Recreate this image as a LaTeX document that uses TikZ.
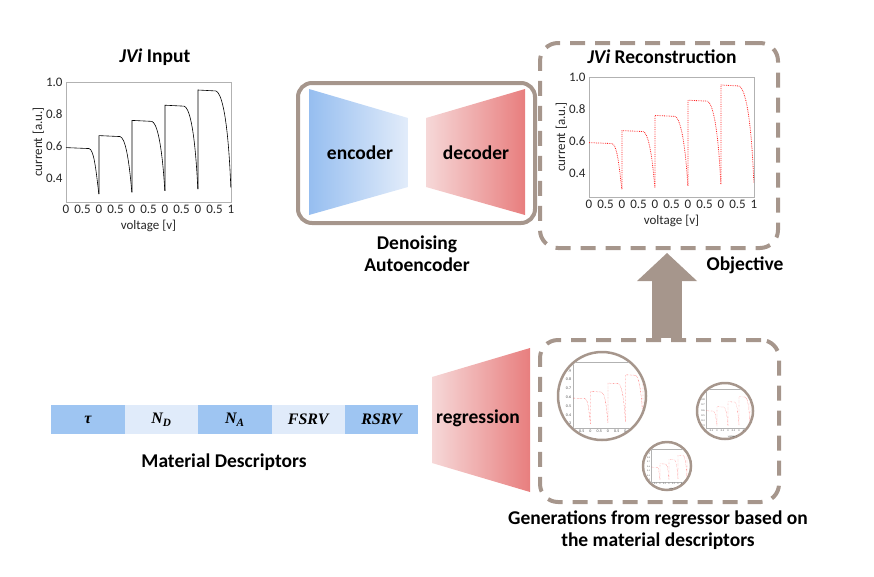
\documentclass[tikz,border=0pt]{standalone}
\usepackage{fontspec}
\setmainfont{Carlito}
\newfontfamily\descfont{Liberation Serif}
\usetikzlibrary{arrows.meta}

\definecolor{taupe}{RGB}{166,150,140}
\definecolor{encblue}{RGB}{150,190,240}
\definecolor{enclight}{RGB}{226,236,250}
\definecolor{decpink}{RGB}{246,216,216}
\definecolor{decred}{RGB}{232,126,126}
\definecolor{cellblue}{RGB}{158,197,242}
\definecolor{celllight}{RGB}{224,235,250}

\tikzset{
  bigtext/.style={font=\fontsize{19.5}{22}\selectfont\bfseries, align=center},
  plotfont/.style={font=\fontsize{13}{15}\selectfont, text=black!85},
  frameline/.style={draw=black!30, line width=0.6pt},
  jvline/.style={black, line width=0.6pt},
  recline/.style={red!85, densely dotted, line width=0.8pt},
  solidbox/.style={draw=taupe, line width=4pt, rounded corners=14pt},
  dashbox/.style={draw=taupe, line width=4pt, rounded corners=18pt, dash pattern=on 15pt off 10pt},
  genring/.style={circle, draw=taupe, line width=2.5pt}
}

% frame, ticks and labels of a JVi plot, in (segment, current) units
\newcommand{\jvaxes}[1]{%
  \draw[frameline] (0,0.25) rectangle (5,1);
  \foreach \v [count=\n] in {#1}
    \node[plotfont, anchor=east, inner sep=0pt] (yt\n) at (-0.1,\v) {\v};
  \foreach \i in {0,...,4} {
    \node[plotfont, anchor=north, inner sep=0pt] (xa\i) at (\i,0.23) {0};
    \node[plotfont, anchor=north, inner sep=0pt] (xb\i) at (\i+0.5,0.23) {0.5};
  }
  \node[plotfont, anchor=north, inner sep=0pt] (xend) at (5,0.23) {1};
  \node[plotfont, inner sep=0pt] (xlab) at (2.5,0.1) {voltage [v]};
  \node[plotfont, rotate=90] (ylab) at (-0.84,0.625) {current [a.u.]};
}

% the five JV sweeps
\newcommand{\jvcurves}[1]{%
  \foreach \i/\a/\b/\p/\k in {0/0.59/0.30/0.59/0.70, 1/0.665/0.31/0.30/0.64,
      2/0.76/0.32/0.31/0.60, 3/0.855/0.33/0.32/0.58, 4/0.95/0.34/0.33/0.54}
    \draw[#1] (\i,\p) -- (\i,\a) -- (\i+\k,\a-0.006)
      .. controls (\i+\k+0.14,\a-0.014) and (\i+0.9,\a-0.12) .. (\i+0.995,\b);
}

\begin{document}
\begin{tikzpicture}[x=1pt,y=-1pt]
\useasboundingbox (0,0) rectangle (874,576);

% input curve
\node[bigtext] (intitle) at (155,57) {\textit{JVi} Input};
\begin{scope}[shift={(66pt,-242pt)}, x=33pt, y=160pt]
    \jvaxes{0.4,0.6,0.8,1.0}
    \jvcurves{jvline}
\end{scope}

% denoising autoencoder
\node[solidbox, minimum width=237pt, minimum height=140pt] (dae) at (416.5,153) {};
\shade[left color=encblue, right color=enclight] (309,89) -- (408,118) -- (408,187) -- (309,215) -- cycle;
\shade[left color=decpink, right color=decred] (426,118) -- (525,89) -- (525,215) -- (426,187) -- cycle;
\node[bigtext] (enc) at (360,153) {encoder};
\node[bigtext] (dec) at (476,153) {decoder};
\node[bigtext] (daelabel) at (417,254) {Denoising\\Autoencoder};

% reconstruction
\node[dashbox, minimum width=238pt, minimum height=205pt] (recbox) at (659,145.5) {};
\node[bigtext] (rectitle) at (662,57) {\textit{JVi} Reconstruction};
\begin{scope}[shift={(589pt,-237pt)}, x=33pt, y=160pt]
    \jvaxes{0.4,0.6,0.8,1.0}
    \jvcurves{recline}
\end{scope}
\node[bigtext] (objective) at (745,265) {Objective};

% material descriptors
\begin{scope}[every node/.style={minimum width=73.4pt, minimum height=29pt, inner sep=0pt, outer sep=0pt,
                                 font=\descfont\fontsize{16}{18}\selectfont\bfseries\itshape}]
    \node[fill=cellblue] (tau) at (88,419.5) {τ};
    \node[fill=celllight] (nd) at (161.4,419.5) {N\textsubscript{D}};
    \node[fill=cellblue] (na) at (234.8,419.5) {N\textsubscript{A}};
    \node[fill=celllight] (fsrv) at (308.2,419.5) {FSRV};
    \node[fill=cellblue] (rsrv) at (381.6,419.5) {RSRV};
\end{scope}
\node[bigtext] (matlabel) at (224,462) {Material Descriptors};

% regression
\shade[left color=decpink, right color=decred] (432,377) -- (530,348) -- (530,492) -- (432,463) -- cycle;
\node[bigtext] (reg) at (478,418) {regression};

% generations
\node[dashbox, minimum width=239pt, minimum height=162pt] (genbox) at (659.5,421) {};
\node[bigtext] (genlabel) at (658,530) {Generations from regressor based on\\the material descriptors};

\node[genring, minimum size=88pt] (gen1) at (602,396) {};
\begin{scope}
    \clip (gen1.center) circle (42.7pt);
    \begin{scope}[shift={(573pt,-450pt)}, x=17.5pt, y=88pt,
                  plotfont/.style={font=\fontsize{4}{5}\selectfont, text=black!70}]
        \jvaxes{0.3,0.4,0.5,0.6,0.7,0.8,0.9}
        \jvcurves{recline, line width=0.4pt}
    \end{scope}
\end{scope}

\node[genring, minimum size=56pt] (gen2) at (725,411) {};
\begin{scope}
    \clip (gen2.center) circle (26.7pt);
    \begin{scope}[shift={(706pt,-442pt)}, x=11pt, y=53pt,
                  plotfont/.style={font=\fontsize{2.6}{3}\selectfont, text=black!70}]
        \jvaxes{0.3,0.4,0.5,0.6,0.7,0.8,0.9}
        \jvcurves{recline, line width=0.3pt}
    \end{scope}
\end{scope}

\node[genring, minimum size=48pt] (gen3) at (667,466) {};
\begin{scope}
    \clip (gen3.center) circle (22.7pt);
    \begin{scope}[shift={(651pt,-493pt)}, x=9pt, y=44pt,
                  plotfont/.style={font=\fontsize{2.2}{3}\selectfont, text=black!70}]
        \jvaxes{0.3,0.4,0.5,0.6,0.7,0.8,0.9}
        \jvcurves{recline, line width=0.3pt}
    \end{scope}
\end{scope}

% objective arrow
\coordinate (arrbot) at (667,338);
\coordinate (arrtop) at (667,253);
\draw[taupe, line width=30pt, -{Triangle[width=60pt, length=28pt, line width=0pt]}] (arrbot) -- (arrtop);
\end{tikzpicture}
\end{document}
